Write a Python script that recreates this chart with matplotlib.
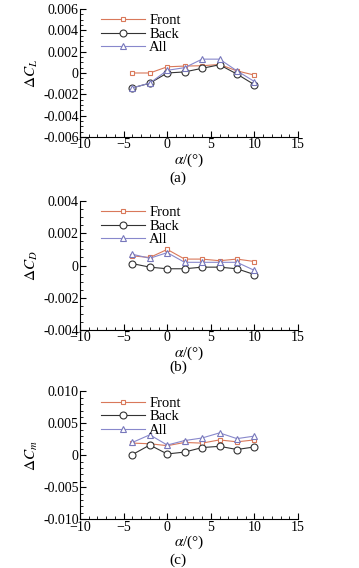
import matplotlib
matplotlib.use('Agg')
import matplotlib.pyplot as plt
from matplotlib.ticker import MultipleLocator

plt.rcParams['font.family'] = ['Liberation Serif', 'DejaVu Serif']
plt.rcParams['mathtext.fontset'] = 'stix'

alpha = [-4, -2, 0, 2, 4, 6, 8, 10]

# (a) delta CL
cl_front = [0.0, 0.0, 0.00058, 0.00065, 0.00068, 0.0008, 0.0002, -0.0002]
cl_back = [-0.0014, -0.00096, 0.0, 0.0001, 0.00044, 0.00077, -0.0001, -0.0011]
cl_all = [-0.0014, -0.00095, 0.00025, 0.0005, 0.0013, 0.0013, 0.0002, -0.0008]

# (b) delta CD
cd_front = [0.0006, 0.0005, 0.001, 0.0004, 0.0004, 0.0003, 0.0004, 0.00025]
cd_back = [0.00012, -0.0001, -0.0002, -0.0002, -0.0001, -0.0001, -0.0002, -0.00056]
cd_all = [0.0007, 0.00045, 0.0008, 0.0002, 0.0002, 0.0002, 0.0002, -0.0003]

# (c) delta Cm
cm_front = [0.0019, 0.0018, 0.0015, 0.002, 0.0019, 0.0024, 0.0021, 0.0024]
cm_back = [0.0001, 0.0016, 0.0002, 0.0005, 0.0012, 0.0014, 0.0009, 0.0013]
cm_all = [0.002, 0.0032, 0.0016, 0.0023, 0.0027, 0.0035, 0.0026, 0.003]

panels = [
  (cl_front, cl_back, cl_all, r'$\Delta C_L$', 0.006, 0.002, 0.0005, '(a)'),
  (cd_front, cd_back, cd_all, r'$\Delta C_D$', 0.004, 0.002, 0.0005, '(b)'),
  (cm_front, cm_back, cm_all, r'$\Delta C_m$', 0.010, 0.005, 0.001, '(c)'),
]

fig = plt.figure(figsize=(3.59, 5.68), dpi=100)
axes_pos = [[0.223, 0.759, 0.607, 0.225],
            [0.223, 0.419, 0.607, 0.227],
            [0.223, 0.086, 0.607, 0.225]]
label_y = [0.687, 0.354, 0.014]

def fmt(v, _):
  if abs(v) < 1e-12:
    return '0'
  return '%.3f' % v

for i, (front, back, allv, ylab, ylim, major, minor, tag) in enumerate(panels):
  ax = fig.add_axes(axes_pos[i])
  ax.plot(alpha, front, color='#d9785a', lw=0.8, marker='s', ms=3.5,
          mfc='white', mec='#d9785a', mew=0.8, label='Front')
  ax.plot(alpha, back, color='#333333', lw=0.8, marker='o', ms=5,
          mfc='white', mec='#333333', mew=0.8, label='Back')
  ax.plot(alpha, allv, color='#8888cc', lw=0.8, marker='^', ms=4,
          mfc='white', mec='#7777bb', mew=0.8, label='All')
  ax.set_xlim(-10, 15)
  ax.set_ylim(-ylim, ylim)
  ax.xaxis.set_major_locator(MultipleLocator(5))
  ax.xaxis.set_minor_locator(MultipleLocator(1))
  ax.yaxis.set_major_locator(MultipleLocator(major))
  ax.yaxis.set_minor_locator(MultipleLocator(minor))
  ax.yaxis.set_major_formatter(plt.FuncFormatter(fmt))
  ax.spines['top'].set_visible(False)
  ax.spines['right'].set_visible(False)
  ax.tick_params(which='both', direction='in', labelsize=10, pad=1)
  ax.tick_params(which='major', length=4)
  ax.tick_params(which='minor', length=2)
  ax.set_xlabel(r'$\alpha$/(°)', fontsize=11, labelpad=0)
  ax.set_ylabel(ylab, fontsize=11, labelpad=2)
  ax.legend(loc='upper left', bbox_to_anchor=(0.05, 1.04), frameon=False,
            fontsize=10.5, handlelength=3.0, labelspacing=0.02,
            handletextpad=0.3, borderpad=0.2)
  fig.text(0.496, label_y[i], tag, ha='center', va='center', fontsize=11)

fig.savefig('out.png', dpi=100)
